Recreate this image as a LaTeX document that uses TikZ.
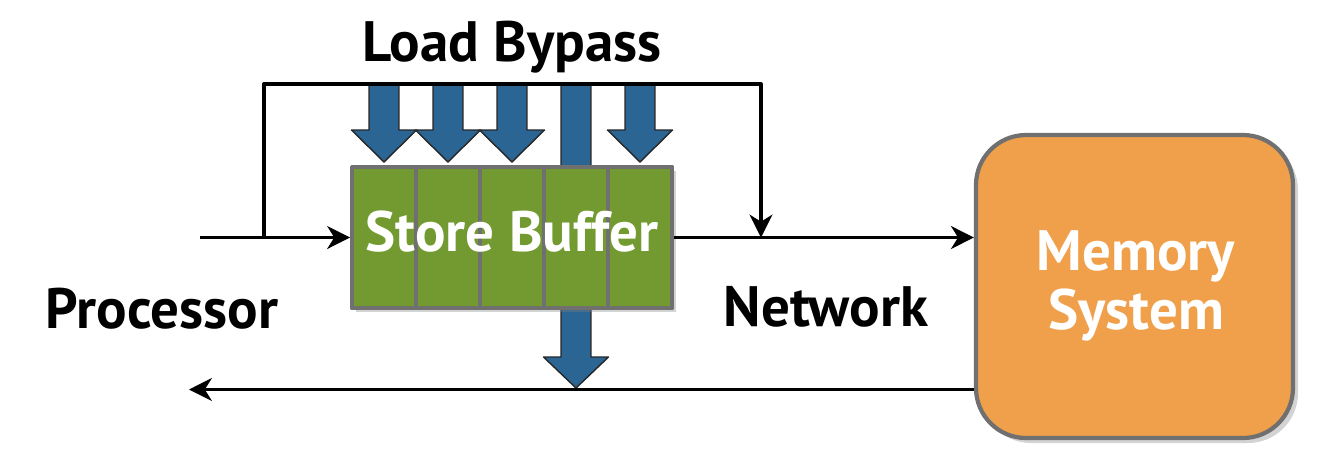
\documentclass[tikz,border=0pt]{standalone}
\usepackage{fontspec}
\setmainfont{PT Sans}
\usetikzlibrary{arrows.meta,shadows}
\definecolor{sbgreen}{HTML}{739A30}
\definecolor{sbgray}{HTML}{707070}
\definecolor{memorange}{HTML}{F0A04B}
\definecolor{arrowblue}{HTML}{2B6593}
\newcommand{\bluearrow}[4]{% x, shaft top, head base, tip
  \fill[arrowblue,draw=black!85,line width=0.4pt]
    (#1-0.15,#2)--(#1+0.15,#2)--(#1+0.15,#3)--(#1+0.325,#3)--(#1,#4)
    --(#1-0.325,#3)--(#1-0.15,#3)--cycle;}
\begin{document}
\begin{tikzpicture}[>={Stealth[length=6.5pt,width=6.5pt,inset=2pt]},line join=round]
	\tikzset{label style/.style={font=\fontsize{16.2}{16.8}\selectfont\bfseries},
		wire/.style={line width=0.95pt},
		sbbox/.style={fill=sbgreen,draw=sbgray,line width=1.1pt,inner sep=0pt,
			minimum width=3.2cm,minimum height=1.41cm,
			drop shadow={shadow xshift=0.04cm,shadow yshift=-0.04cm,opacity=0.35}},
		sbcell/.style={draw=sbgray,line width=1.1pt,inner sep=0pt,
			minimum width=0.64cm,minimum height=1.41cm},
		membox/.style={fill=memorange,draw=sbgray,line width=1.2pt,rounded corners=0.5cm,
			minimum width=3.17cm,minimum height=3.03cm,
			drop shadow={shadow xshift=0.05cm,shadow yshift=-0.05cm,opacity=0.35}}}
	\useasboundingbox (0,0) rectangle (13.38,4.72);
	%% load bypass arrows
	\foreach \x in {3.84,4.48,5.12,6.40} {\bluearrow{\x}{3.87}{3.42}{3.10}}
	\bluearrow{5.76}{3.87}{1.15}{0.84}
	%% store buffer
	\node[sbbox] (sb) at (5.12,2.345) {};
	\foreach \i in {0,...,4} \node[sbcell] (c\i) at (3.84+0.64*\i,2.345) {};
	\node[label style,text=white,anchor=base] (sbtext) at (5.12,2.21) {Store Buffer};
	%% memory system
	\node[membox] (mem) at (11.345,1.855) {};
	\node[label style,text=white,align=center] (memtext) at (11.36,1.86)
		{Memory\\System};
	%% connectors
	\coordinate (pin) at (2.00,2.345);
	\coordinate (bl) at (2.64,2.345);
	\coordinate (bt) at (5.12,3.88);
	\coordinate (br) at (7.61,2.345);
	\coordinate (pret) at (1.89,0.825);
	\draw[wire,->] (pin) -- (sb.west);
	\draw[wire,->] (bl) |- (bt) -| (br);
	\draw[wire,->] (sb.east) -- (sb.east -| mem.west);
	\draw[wire,->] (mem.west |- pret) -- (pret);
	%% labels
	\node[label style,anchor=base] (ldlabel) at (5.12,4.11) {Load Bypass};
	\node[label style,anchor=base west,inner sep=0pt] (proclabel) at (0.45,1.44) {Processor};
	\node[label style,anchor=base west,inner sep=0pt] (netlabel) at (7.23,1.46) {Network};
\end{tikzpicture}
\end{document}
